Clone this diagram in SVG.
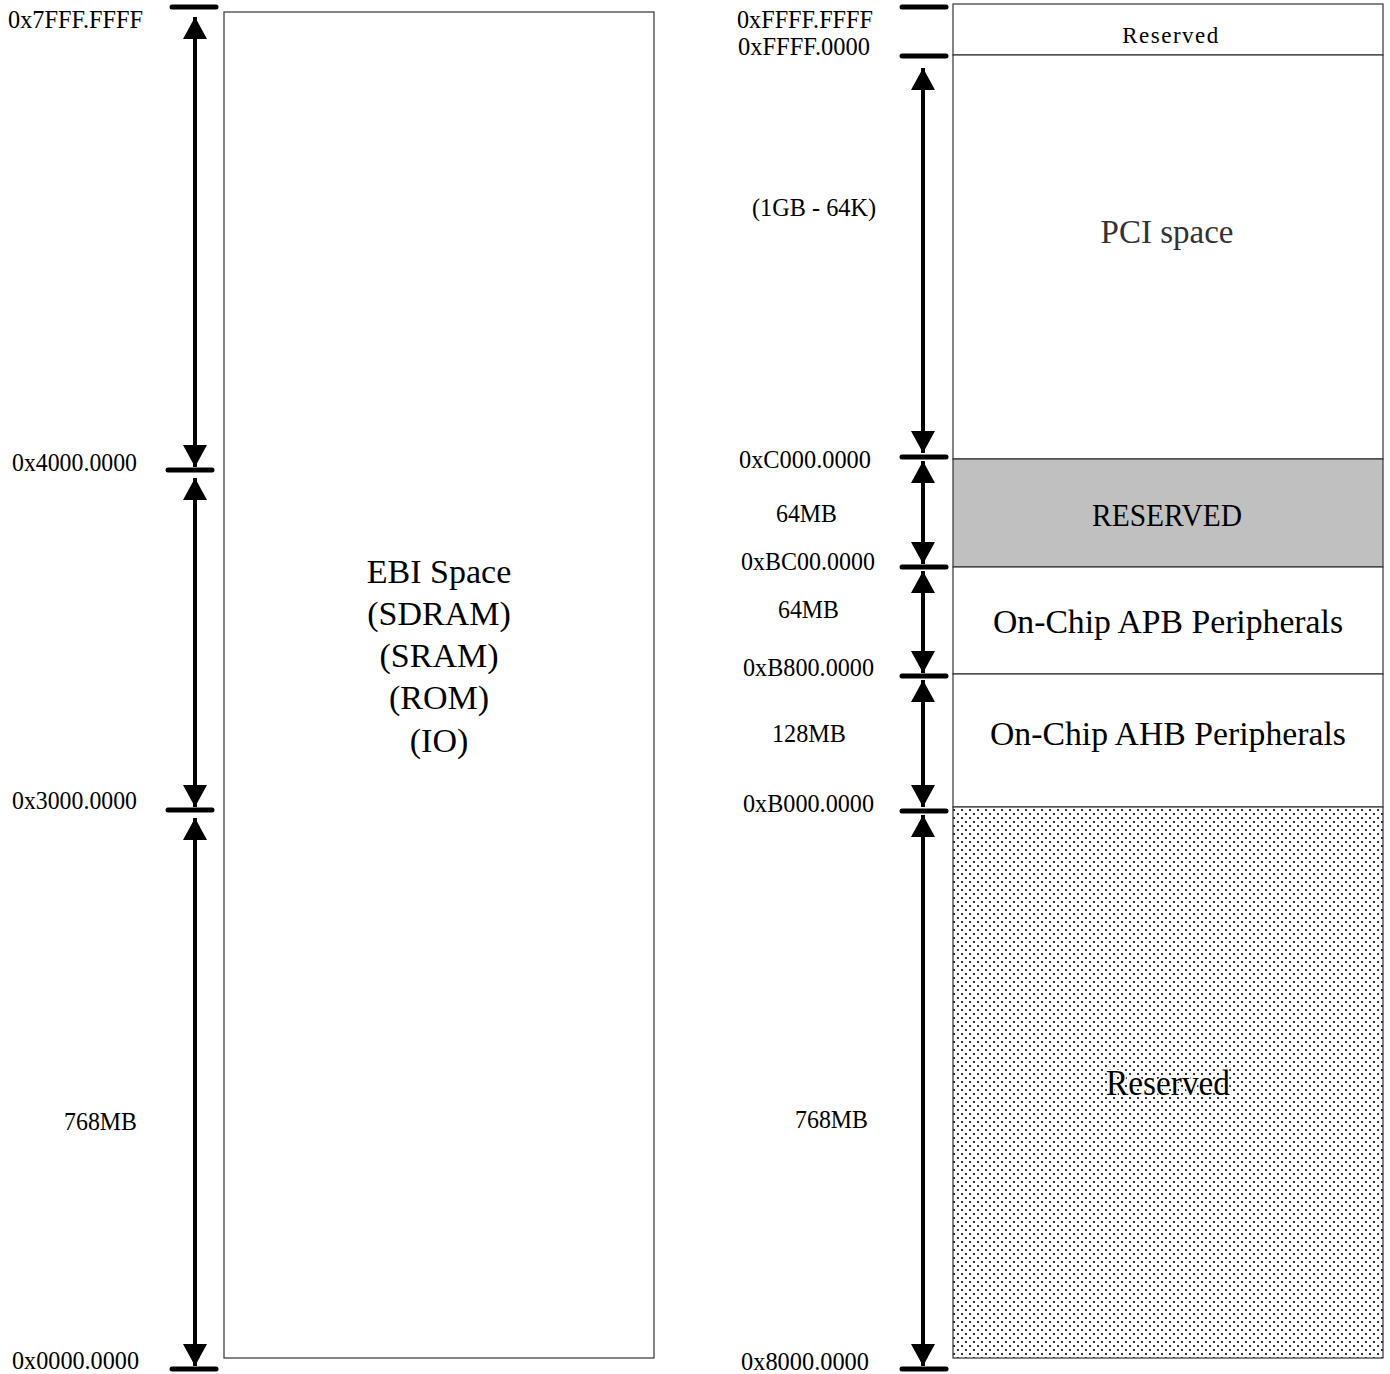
<svg xmlns="http://www.w3.org/2000/svg" width="1390" height="1374" viewBox="0 0 1390 1374">
<defs>
<style>
.t{font-family:"Liberation Serif","Times New Roman",serif;fill:#000}
.addr{font-size:25px}
.box{fill:#fff;stroke:#333;stroke-width:1.2}
.tick{stroke:#000;stroke-width:5;stroke-linecap:round}
.shaft{stroke:#000;stroke-width:4}
</style>
<pattern id="dots" width="8" height="8" patternUnits="userSpaceOnUse">
<rect width="8" height="8" fill="#fff"/>
<rect x="1" y="1" width="2" height="2" fill="#333"/>
<rect x="5" y="5" width="2" height="2" fill="#333"/>
</pattern>
<marker id="ah" viewBox="0 0 22 24" refX="22" refY="12" markerWidth="22" markerHeight="24" markerUnits="userSpaceOnUse" orient="auto-start-reverse">
<path d="M0,0 L22,12 L0,24 z" fill="#000"/>
</marker>
</defs>

<g id="left-map">
<rect id="ebi" class="box" x="224" y="12" width="430" height="1346"/>
<g id="ebi-label" class="t" font-size="34" text-anchor="middle">
<text x="439" y="583">EBI Space</text>
<text x="439" y="625">(SDRAM)</text>
<text x="439" y="667">(SRAM)</text>
<text x="439" y="709">(ROM)</text>
<text x="439" y="752">(IO)</text>
</g>
</g>

<g id="right-map">
<g id="reserved-top"><rect class="box" x="953" y="4" width="430" height="51"/>
<text class="t" x="1171" y="43" font-size="23" text-anchor="middle" letter-spacing="1.5">Reserved</text></g>
<g id="pci"><rect class="box" x="953" y="55" width="430" height="404"/>
<text class="t" x="1167" y="243" font-size="33" text-anchor="middle" style="fill:#333">PCI space</text></g>
<g id="reserved-gray"><rect class="box" x="953" y="459" width="430" height="108" style="fill:#c0c0c0"/>
<text class="t" x="1167" y="526" font-size="31" text-anchor="middle" textLength="150" lengthAdjust="spacingAndGlyphs">RESERVED</text></g>
<g id="apb"><rect class="box" x="953" y="567" width="430" height="107"/>
<text class="t" x="1168" y="633" font-size="34" text-anchor="middle" textLength="350" lengthAdjust="spacingAndGlyphs">On-Chip APB Peripherals</text></g>
<g id="ahb"><rect class="box" x="953" y="674" width="430" height="133"/>
<text class="t" x="1168" y="745" font-size="34" text-anchor="middle" textLength="356" lengthAdjust="spacingAndGlyphs">On-Chip AHB Peripherals</text></g>
<g id="reserved-dotted"><rect class="box" x="953" y="807" width="430" height="551" style="fill:url(#dots)"/>
<text class="t" x="1168" y="1095" font-size="35" text-anchor="middle" stroke="#fff" stroke-width="3" paint-order="stroke" textLength="124" lengthAdjust="spacingAndGlyphs">Reserved</text></g>
</g>

<g id="connectors">
<line class="tick" x1="172" y1="7" x2="216" y2="7"/>
<line class="tick" x1="168" y1="470" x2="212" y2="470"/>
<line class="tick" x1="168" y1="810" x2="212" y2="810"/>
<line class="tick" x1="172" y1="1369" x2="216" y2="1369"/>
<line class="shaft" x1="195" y1="17" x2="195" y2="467" marker-start="url(#ah)" marker-end="url(#ah)"/>
<line class="shaft" x1="195" y1="478" x2="195" y2="807" marker-start="url(#ah)" marker-end="url(#ah)"/>
<line class="shaft" x1="195" y1="818" x2="195" y2="1366" marker-start="url(#ah)" marker-end="url(#ah)"/>

<line class="tick" x1="902" y1="7" x2="946" y2="7"/>
<line class="tick" x1="902" y1="56" x2="946" y2="56"/>
<line class="tick" x1="902" y1="457" x2="946" y2="457"/>
<line class="tick" x1="902" y1="567" x2="946" y2="567"/>
<line class="tick" x1="902" y1="676" x2="946" y2="676"/>
<line class="tick" x1="902" y1="811" x2="946" y2="811"/>
<line class="tick" x1="902" y1="1369" x2="946" y2="1369"/>
<line class="shaft" x1="923" y1="68" x2="923" y2="453" marker-start="url(#ah)" marker-end="url(#ah)"/>
<line class="shaft" x1="923" y1="461" x2="923" y2="564" marker-start="url(#ah)" marker-end="url(#ah)"/>
<line class="shaft" x1="923" y1="571" x2="923" y2="673" marker-start="url(#ah)" marker-end="url(#ah)"/>
<line class="shaft" x1="923" y1="680" x2="923" y2="807" marker-start="url(#ah)" marker-end="url(#ah)"/>
<line class="shaft" x1="923" y1="815" x2="923" y2="1366" marker-start="url(#ah)" marker-end="url(#ah)"/>
</g>

<g id="labels" class="t">
<text class="addr" x="8" y="28" textLength="135" lengthAdjust="spacingAndGlyphs">0x7FFF.FFFF</text>
<text class="addr" x="12" y="471" textLength="125" lengthAdjust="spacingAndGlyphs">0x4000.0000</text>
<text class="addr" x="12" y="809" textLength="125" lengthAdjust="spacingAndGlyphs">0x3000.0000</text>
<text class="addr" x="64" y="1130" textLength="73" lengthAdjust="spacingAndGlyphs">768MB</text>
<text class="addr" x="12" y="1369" textLength="127" lengthAdjust="spacingAndGlyphs">0x0000.0000</text>

<text class="addr" x="737" y="28" textLength="136" lengthAdjust="spacingAndGlyphs">0xFFFF.FFFF</text>
<text class="addr" x="738" y="55" textLength="132" lengthAdjust="spacingAndGlyphs">0xFFFF.0000</text>
<text class="addr" x="752" y="216" textLength="124" lengthAdjust="spacingAndGlyphs">(1GB - 64K)</text>
<text class="addr" x="739" y="468" textLength="132" lengthAdjust="spacingAndGlyphs">0xC000.0000</text>
<text class="addr" x="776" y="522" textLength="61" lengthAdjust="spacingAndGlyphs">64MB</text>
<text class="addr" x="741" y="570" textLength="134" lengthAdjust="spacingAndGlyphs">0xBC00.0000</text>
<text class="addr" x="778" y="618" textLength="61" lengthAdjust="spacingAndGlyphs">64MB</text>
<text class="addr" x="743" y="676" textLength="131" lengthAdjust="spacingAndGlyphs">0xB800.0000</text>
<text class="addr" x="772" y="742" textLength="74" lengthAdjust="spacingAndGlyphs">128MB</text>
<text class="addr" x="743" y="812" textLength="131" lengthAdjust="spacingAndGlyphs">0xB000.0000</text>
<text class="addr" x="795" y="1128" textLength="73" lengthAdjust="spacingAndGlyphs">768MB</text>
<text class="addr" x="741" y="1370" textLength="128" lengthAdjust="spacingAndGlyphs">0x8000.0000</text>
</g>
</svg>
